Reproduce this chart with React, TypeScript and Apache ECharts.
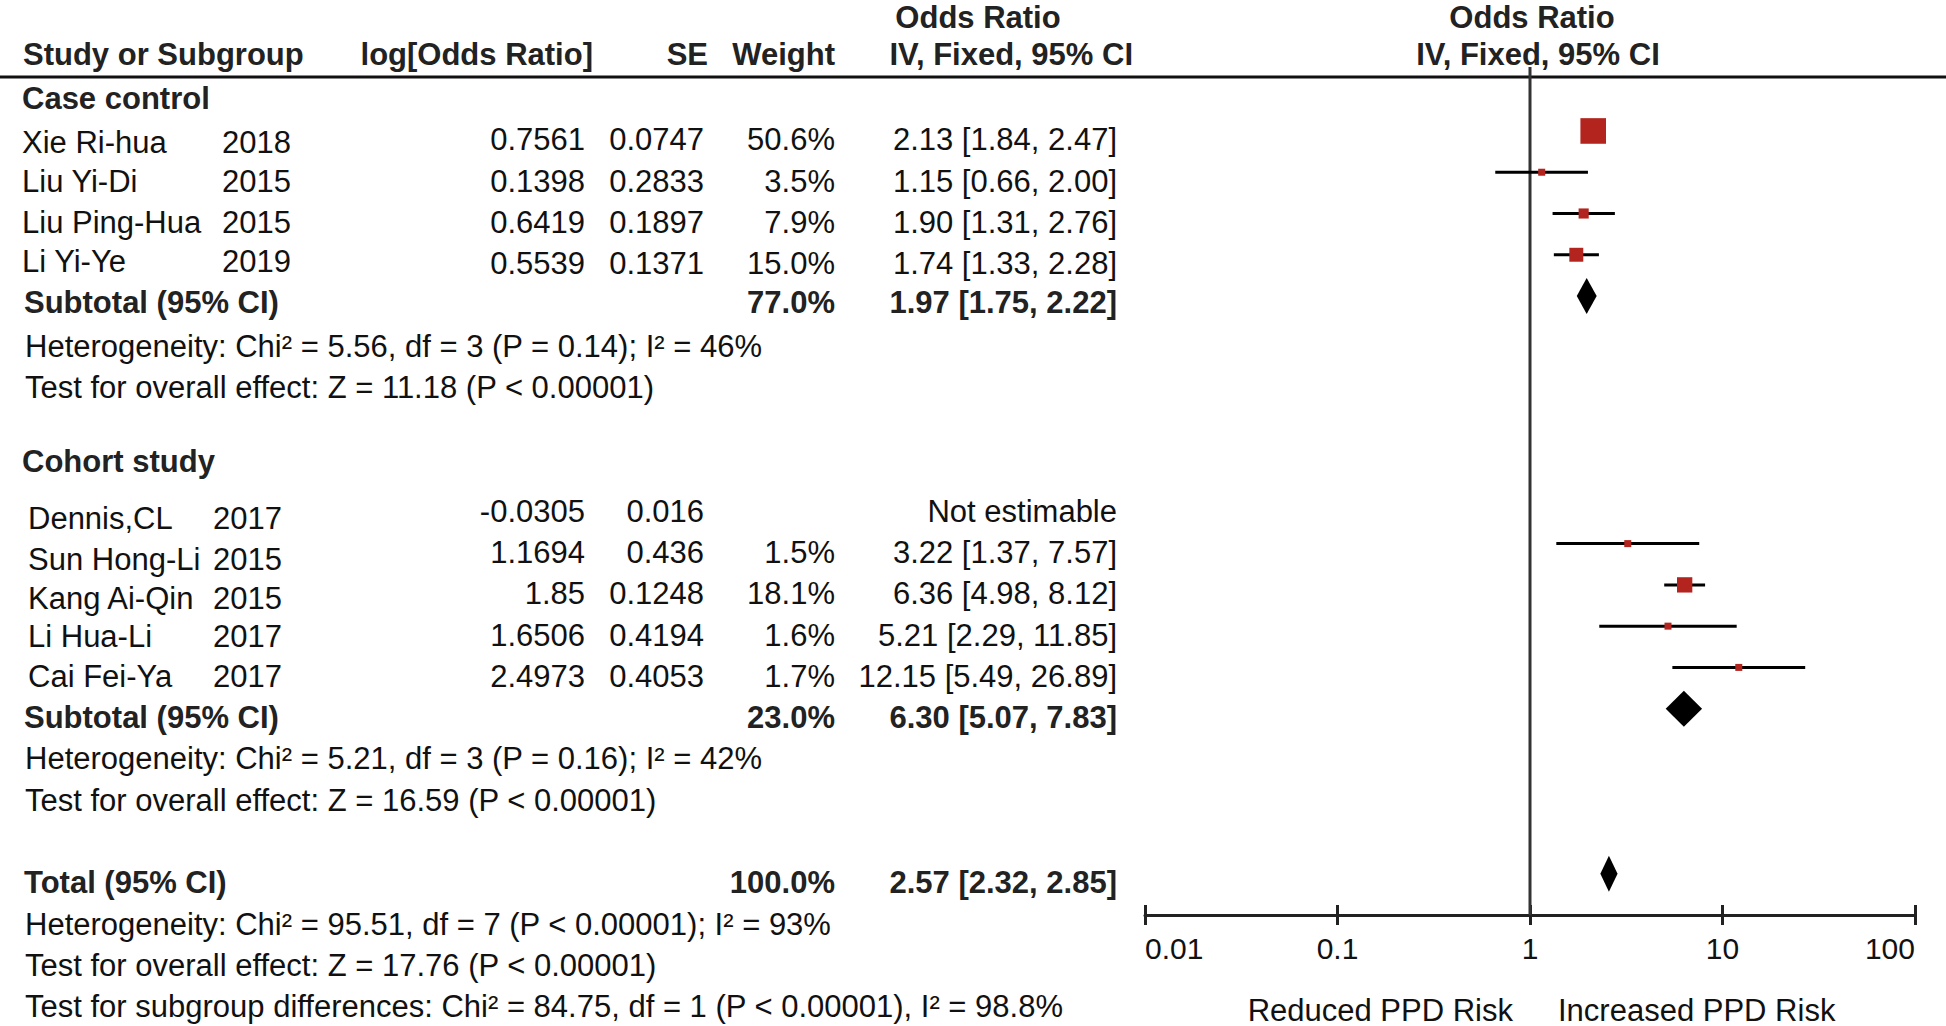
import React, { useEffect, useRef } from "react";
import * as echarts from "echarts";

// ---------------- data ----------------
const caseStudies = ["Xie Ri-hua", "Liu Yi-Di", "Liu Ping-Hua", "Li Yi-Ye"];
const caseYears = ["2018", "2015", "2015", "2019"];
const caseLogOR = ["0.7561", "0.1398", "0.6419", "0.5539"];
const caseSE = ["0.0747", "0.2833", "0.1897", "0.1371"];
const caseWeight = [50.6, 3.5, 7.9, 15.0];
const caseOR = [2.13, 1.15, 1.9, 1.74];
const caseLo = [1.84, 0.66, 1.31, 1.33];
const caseHi = [2.47, 2.0, 2.76, 2.28];

const cohortStudies = ["Dennis,CL", "Sun Hong-Li", "Kang Ai-Qin", "Li Hua-Li", "Cai Fei-Ya"];
const cohortYears = ["2017", "2015", "2015", "2017", "2017"];
const cohortLogOR = ["-0.0305", "1.1694", "1.85", "1.6506", "2.4973"];
const cohortSE = ["0.016", "0.436", "0.1248", "0.4194", "0.4053"];
const cohortWeight: (number | null)[] = [null, 1.5, 18.1, 1.6, 1.7];
const cohortOR: (number | null)[] = [null, 3.22, 6.36, 5.21, 12.15];
const cohortLo: (number | null)[] = [null, 1.37, 4.98, 2.29, 5.49];
const cohortHi: (number | null)[] = [null, 7.57, 8.12, 11.85, 26.89];

// subtotal / total: [weight, OR, lower, upper]
const caseSubtotal = [77.0, 1.97, 1.75, 2.22];
const cohortSubtotal = [23.0, 6.3, 5.07, 7.83];
const overallTotal = [100.0, 2.57, 2.32, 2.85];

const caseStats = [
  "Heterogeneity: Chi² = 5.56, df = 3 (P = 0.14); I² = 46%",
  "Test for overall effect: Z = 11.18 (P < 0.00001)",
];
const cohortStats = [
  "Heterogeneity: Chi² = 5.21, df = 3 (P = 0.16); I² = 42%",
  "Test for overall effect: Z = 16.59 (P < 0.00001)",
];
const totalStats = [
  "Heterogeneity: Chi² = 95.51, df = 7 (P < 0.00001); I² = 93%",
  "Test for overall effect: Z = 17.76 (P < 0.00001)",
  "Test for subgroup differences: Chi² = 84.75, df = 1 (P < 0.00001), I² = 98.8%",
];

const tickValues = [0.01, 0.1, 1, 10, 100];
const tickLabels = ["0.01", "0.1", "1", "10", "100"];
const favoursLeft = "Reduced PPD Risk";
const favoursRight = "Increased PPD Risk";

// ---------------- layout ----------------
const FONT = '"Liberation Sans", Arial, Helvetica, sans-serif';
const FS = 31;
const W = 1946;
const H = 1026;
const Y_MIN = -1.55;
const Y_MAX = 19.0;
const CASE_ROW0 = 0;
const COHORT_ROW0 = 9;
const TEXT_DY = 9;

const fmt2 = (v: number) => v.toFixed(2);
const ciText = (o: number, l: number, h: number) => `${fmt2(o)} [${fmt2(l)}, ${fmt2(h)}]`;
const pct = (w: number) => `${w.toFixed(1)}%`;

export default function App() {
  const ref = useRef<HTMLDivElement>(null);

  useEffect(() => {
    const chart = echarts.init(ref.current!, null, { renderer: "svg" });

    // forest data
    const ciData: number[][] = [];
    const sqData: number[][] = [];
    caseStudies.forEach((_, i) => {
      const r = CASE_ROW0 + i;
      ciData.push([caseLo[i], caseHi[i], r]);
      sqData.push([caseOR[i], r, caseWeight[i]]);
    });
    cohortStudies.forEach((_, i) => {
      if (cohortOR[i] == null) return;
      const r = COHORT_ROW0 + i;
      ciData.push([cohortLo[i] as number, cohortHi[i] as number, r]);
      sqData.push([cohortOR[i] as number, r, cohortWeight[i] as number]);
    });
    const caseSubRow = CASE_ROW0 + caseStudies.length;
    const cohortSubRow = COHORT_ROW0 + cohortStudies.length;
    const totalRow = cohortSubRow + 4;
    const diamondData = [
      [caseSubtotal[1], caseSubtotal[2], caseSubtotal[3], caseSubRow],
      [cohortSubtotal[1], cohortSubtotal[2], cohortSubtotal[3], cohortSubRow],
      [overallTotal[1], overallTotal[2], overallTotal[3], totalRow],
    ];

    const labelFmt = (v: number) => {
      const idx = tickValues.findIndex((t) => Math.abs(Math.log10(t) - Math.log10(v)) < 1e-6);
      return idx >= 0 ? tickLabels[idx] : "";
    };

    const axisCommon = {
      type: "log" as const,
      logBase: 10,
      min: tickValues[0],
      max: tickValues[tickValues.length - 1],
      gridIndex: 0,
      position: "bottom" as const,
      offset: 0,
      splitLine: { show: false },
      minorTick: { show: false },
    };

    chart.setOption({
      animation: false,
      backgroundColor: "#ffffff",
      grid: { left: 1145, right: W - 1915, top: 67, bottom: H - 915, containLabel: false },
      xAxis: [
        {
          ...axisCommon,
          axisLine: { show: true, onZero: false, lineStyle: { color: "#222", width: 3 } },
          axisTick: { show: true, inside: false, length: 10, lineStyle: { color: "#222", width: 3 } },
          axisLabel: {
            show: true,
            formatter: labelFmt,
            fontFamily: FONT,
            fontSize: 30,
            color: "#111",
            margin: 18,
            showMinLabel: true,
            showMaxLabel: true,
            alignMinLabel: "left",
            alignMaxLabel: "right",
          },
        },
        {
          ...axisCommon,
          axisLine: { show: false, onZero: false },
          axisTick: { show: true, inside: true, length: 10, lineStyle: { color: "#222", width: 3 } },
          axisLabel: { show: false },
        },
      ],
      yAxis: { type: "value", inverse: true, min: Y_MIN, max: Y_MAX, show: false, gridIndex: 0 },
      series: [
        {
          type: "line",
          data: [
            [1, Y_MIN],
            [1, Y_MAX],
          ],
          symbol: "none",
          lineStyle: { color: "#333", width: 3 },
          silent: true,
          z: 1,
        },
        {
          type: "custom",
          data: ciData,
          encode: { x: [0, 1], y: 2 },
          z: 2,
          renderItem: (params: any, api: any) => {
            const p1 = api.coord([api.value(0), api.value(2)]);
            const p2 = api.coord([api.value(1), api.value(2)]);
            return {
              type: "line",
              shape: { x1: p1[0], y1: p1[1], x2: p2[0], y2: p2[1] },
              style: { stroke: "#000", lineWidth: 3 },
            };
          },
        },
        {
          type: "scatter",
          data: sqData,
          symbol: "rect",
          symbolSize: (v: number[]) => Math.max(7, 3.6 * Math.sqrt(v[2])),
          itemStyle: { color: "#B3241E", opacity: 1 },
          z: 3,
        },
        {
          type: "custom",
          data: diamondData,
          encode: { x: [0, 1, 2], y: 3 },
          z: 3,
          renderItem: (params: any, api: any) => {
            const y = api.value(3);
            const c = api.coord([api.value(0), y]);
            const l = api.coord([api.value(1), y]);
            const r = api.coord([api.value(2), y]);
            const h = 18;
            return {
              type: "polygon",
              shape: {
                points: [
                  [l[0], c[1]],
                  [c[0], c[1] - h],
                  [r[0], c[1]],
                  [c[0], c[1] + h],
                ],
              },
              style: { fill: "#000" },
            };
          },
        },
      ],
    });

    const rowY = (r: number) => (chart.convertToPixel({ yAxisIndex: 0 } as any, r) as number) + TEXT_DY;
    const els: any[] = [];
    const txt = (
      text: string,
      x: number,
      y: number,
      align: "left" | "right" | "center" = "left",
      bold = false
    ) => {
      els.push({
        type: "text",
        x,
        y,
        silent: true,
        style: {
          text,
          fill: bold ? "#222" : "#111",
          fontFamily: FONT,
          fontSize: FS,
          fontWeight: bold ? "bold" : "normal",
          align,
          textAlign: align,
          verticalAlign: "middle",
          textVerticalAlign: "middle",
        },
      });
    };

    // headers
    txt("Odds Ratio", 978, 17, "center", true);
    txt("Odds Ratio", 1532, 17, "center", true);
    txt("Study or Subgroup", 23, 54, "left", true);
    txt("log[Odds Ratio]", 593, 54, "right", true);
    txt("SE", 708, 54, "right", true);
    txt("Weight", 835, 54, "right", true);
    txt("IV, Fixed, 95% CI", 1133, 54, "right", true);
    txt("IV, Fixed, 95% CI", 1538, 54, "center", true);
    els.push({
      type: "line",
      shape: { x1: 0, y1: 77, x2: W, y2: 77 },
      style: { stroke: "#111", lineWidth: 3 },
      silent: true,
    });

    const LOG_R = 585;
    const SE_R = 704;
    const W_R = 835;
    const CI_R = 1117;

    // case control
    txt("Case control", 22, rowY(CASE_ROW0 - 1), "left", true);
    const caseNameDy = [3, 0, 0, -2];
    caseStudies.forEach((s, i) => {
      const y = rowY(CASE_ROW0 + i);
      txt(s, 22, y + caseNameDy[i]);
      txt(caseYears[i], 222, y + caseNameDy[i]);
      txt(caseLogOR[i], LOG_R, y, "right");
      txt(caseSE[i], SE_R, y, "right");
      txt(pct(caseWeight[i]), W_R, y, "right");
      txt(ciText(caseOR[i], caseLo[i], caseHi[i]), CI_R, y, "right");
    });
    {
      const y = rowY(caseSubRow) - 3;
      txt("Subtotal (95% CI)", 24, y, "left", true);
      txt(pct(caseSubtotal[0]), W_R, y, "right", true);
      txt(ciText(caseSubtotal[1], caseSubtotal[2], caseSubtotal[3]), CI_R, y, "right", true);
      caseStats.forEach((s, k) => txt(s, 25, rowY(caseSubRow + 1 + k), "left"));
    }

    // cohort
    txt("Cohort study", 22, rowY(COHORT_ROW0 - 1.2), "left", true);
    const cohortNameDy = [7, 7, 5, 1, 0];
    cohortStudies.forEach((s, i) => {
      const y = rowY(COHORT_ROW0 + i);
      txt(s, 28, y + cohortNameDy[i]);
      txt(cohortYears[i], 213, y + cohortNameDy[i]);
      txt(cohortLogOR[i], LOG_R, y, "right");
      txt(cohortSE[i], SE_R, y, "right");
      if (cohortOR[i] == null) {
        txt("Not estimable", CI_R, y, "right");
      } else {
        txt(pct(cohortWeight[i] as number), W_R, y, "right");
        txt(ciText(cohortOR[i] as number, cohortLo[i] as number, cohortHi[i] as number), CI_R, y, "right");
      }
    });
    {
      const y = rowY(cohortSubRow);
      txt("Subtotal (95% CI)", 24, y, "left", true);
      txt(pct(cohortSubtotal[0]), W_R, y, "right", true);
      txt(ciText(cohortSubtotal[1], cohortSubtotal[2], cohortSubtotal[3]), CI_R, y, "right", true);
      cohortStats.forEach((s, k) => txt(s, 25, rowY(cohortSubRow + 1 + k), "left"));
    }

    // total
    {
      const y = rowY(totalRow);
      txt("Total (95% CI)", 24, y, "left", true);
      txt(pct(overallTotal[0]), W_R, y, "right", true);
      txt(ciText(overallTotal[1], overallTotal[2], overallTotal[3]), CI_R, y, "right", true);
      totalStats.forEach((s, k) => txt(s, 25, rowY(totalRow + 1 + k), "left"));
    }

    // favours labels
    txt(favoursLeft, 1513, 1010, "right");
    txt(favoursRight, 1558, 1010, "left");

    chart.setOption({ graphic: { elements: els } });

    return () => chart.dispose();
  }, []);

  return (
    <div
      ref={ref}
      style={{ position: "fixed", left: 0, top: 0, width: W, height: H, background: "#fff" }}
    />
  );
}
